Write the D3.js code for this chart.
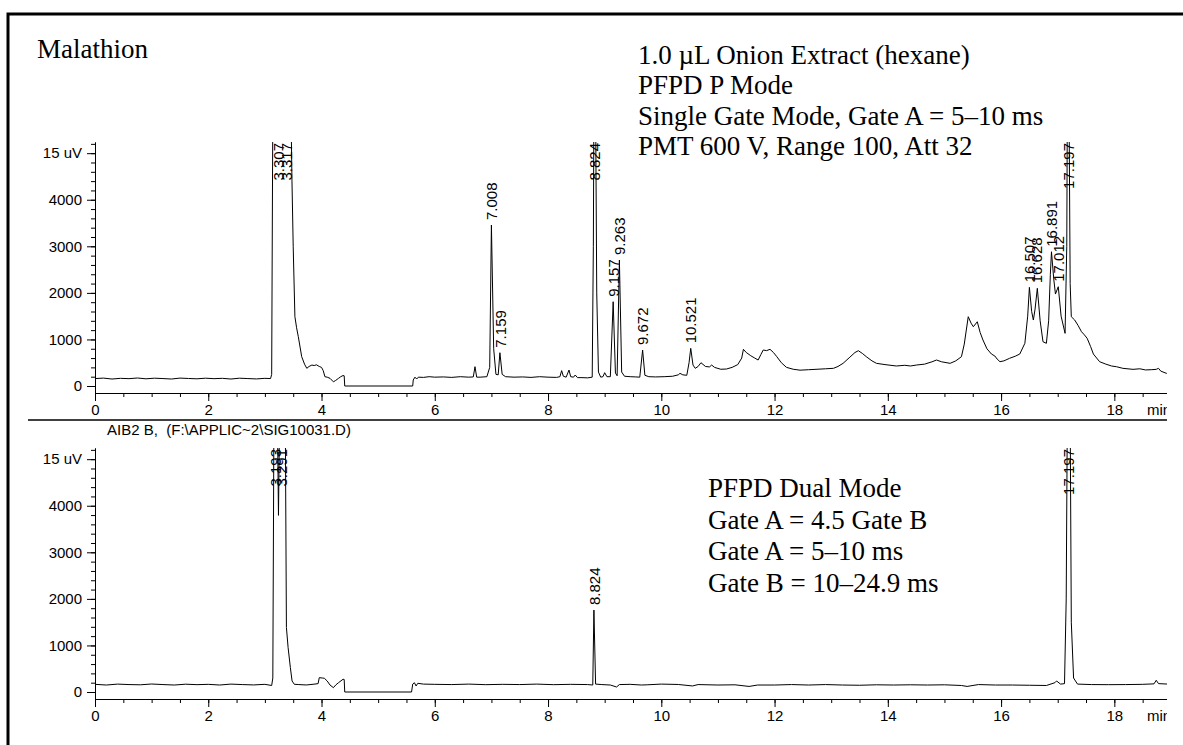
<!DOCTYPE html>
<html>
<head>
<meta charset="utf-8">
<script src="https://cdn.jsdelivr.net/npm/d3@7"></script>
<style>
	body { margin: 0; background: #fff; }
	svg text { font-family: "Liberation Sans", Arial, sans-serif; fill: #000; }
	svg text.note { font-family: "Liberation Serif", "Times New Roman", serif; }
</style>
</head>
<body>
<svg id="chart" width="1183" height="745"></svg>
<script>
// Upper trace: PFPD P mode, [minutes, counts]; 6000 = off scale
var topTrace = [
	[0.00,160],[0.15,170],[0.30,150],[0.45,165],[0.60,158],[0.75,172],[0.90,155],[1.05,168],
	[1.20,160],[1.35,150],[1.50,170],[1.65,162],[1.80,155],[1.95,168],[2.10,158],[2.25,165],
	[2.40,150],[2.55,168],[2.70,160],[2.85,152],[3.00,165],[3.10,160],[3.12,250],[3.14,6000],
	[3.46,6000],[3.478,4420],[3.50,2990],[3.53,1490],[3.56,1250],[3.59,1060],[3.65,630],[3.70,470],
	[3.74,380],[3.78,420],[3.83,450],[3.87,440],[3.91,455],[3.96,420],[4.00,400],[4.03,330],
	[4.06,200],[4.10,190],[4.15,165],[4.21,90],[4.25,120],[4.30,165],[4.34,200],[4.38,225],
	[4.40,220],[4.41,0],[5.61,0],[5.62,130],[5.65,190],[5.68,150],[5.71,190],[5.80,185],
	[5.90,200],[6.00,190],[6.15,195],[6.30,185],[6.45,200],[6.60,190],[6.68,195],[6.71,415],
	[6.74,190],[6.80,190],[6.92,200],[6.97,400],[7.00,3457],[7.04,800],[7.08,250],[7.12,240],
	[7.15,715],[7.19,250],[7.25,200],[7.40,190],[7.55,195],[7.70,185],[7.85,200],[8.00,190],
	[8.15,185],[8.21,200],[8.24,330],[8.27,210],[8.32,190],[8.37,343],[8.40,200],[8.45,190],
	[8.48,236],[8.52,180],[8.60,180],[8.70,175],[8.78,190],[8.80,3000],[8.81,6000],[8.84,6000],
	[8.86,2000],[8.89,300],[8.93,190],[8.97,200],[9.00,286],[9.04,200],[9.10,200],[9.15,1810],
	[9.19,280],[9.22,220],[9.26,2705],[9.30,300],[9.35,210],[9.45,200],[9.55,195],[9.62,190],
	[9.67,773],[9.71,230],[9.78,200],[9.90,195],[10.05,200],[10.20,210],[10.30,240],[10.33,272],
	[10.38,240],[10.45,230],[10.49,500],[10.52,809],[10.56,450],[10.60,380],[10.65,420],[10.70,500],
	[10.78,420],[10.85,410],[10.89,450],[10.94,400],[11.05,360],[11.15,365],[11.25,400],[11.35,460],
	[11.42,600],[11.45,788],[11.50,720],[11.58,650],[11.65,600],[11.71,558],[11.76,680],[11.80,773],
	[11.86,760],[11.92,788],[11.98,720],[12.04,630],[12.12,500],[12.21,401],[12.33,360],[12.45,340],
	[12.60,350],[12.75,360],[12.90,370],[13.04,380],[13.12,420],[13.21,487],[13.33,620],[13.42,720],
	[13.48,758],[13.55,700],[13.62,630],[13.72,540],[13.80,487],[13.95,460],[14.15,430],[14.30,445],
	[14.40,430],[14.51,451],[14.65,470],[14.78,520],[14.86,558],[14.95,520],[15.10,487],[15.20,540],
	[15.30,630],[15.35,900],[15.42,1488],[15.47,1350],[15.51,1273],[15.58,1380],[15.63,1150],[15.68,988],
	[15.75,800],[15.83,687],[15.89,644],[15.93,580],[15.98,522],[16.05,540],[16.15,595],[16.25,640],
	[16.33,687],[16.42,917],[16.47,1500],[16.50,2119],[16.54,1600],[16.57,1417],[16.60,1650],[16.64,2098],
	[16.69,1400],[16.74,951],[16.80,917],[16.84,1400],[16.87,2400],[16.89,2883],[16.93,2300],[16.96,1975],
	[17.01,2132],[17.06,1500],[17.13,1131],[17.16,3000],[17.17,6000],[17.20,6000],[17.22,2200],[17.24,1488],
	[17.30,1417],[17.36,1300],[17.42,1166],[17.47,1100],[17.52,1024],[17.58,850],[17.63,687],[17.74,522],
	[17.85,470],[17.95,430],[18.04,414],[18.15,380],[18.33,358],[18.45,370],[18.55,345],[18.65,350],
	[18.74,358],[18.78,380],[18.82,320],[18.92,272],[18.95,270]
];

// Lower trace: PFPD dual mode
var bottomTrace = [
	[0.00,165],[0.20,150],[0.40,170],[0.60,160],[0.80,155],[1.00,172],[1.20,160],[1.40,150],
	[1.60,168],[1.80,158],[2.00,165],[2.20,150],[2.40,170],[2.60,160],[2.80,152],[3.00,165],
	[3.12,140],[3.14,300],[3.16,6000],[3.22,6000],[3.24,3793],[3.26,6000],[3.36,6000],[3.38,1386],
	[3.41,955],[3.45,524],[3.48,237],[3.52,166],[3.60,160],[3.73,151],[3.85,166],[3.94,180],
	[3.96,308],[4.02,300],[4.05,295],[4.10,237],[4.15,150],[4.21,93],[4.25,150],[4.30,200],
	[4.38,274],[4.40,270],[4.41,0],[5.59,0],[5.61,170],[5.64,200],[5.67,130],[5.70,187],
	[5.80,170],[6.00,165],[6.30,160],[6.60,170],[6.90,158],[7.20,165],[7.50,160],[7.80,170],
	[8.10,158],[8.40,165],[8.70,160],[8.79,150],[8.81,1760],[8.84,170],[8.95,160],[9.10,150],
	[9.21,108],[9.26,160],[9.45,165],[9.65,150],[9.75,155],[10.00,170],[10.30,162],[10.55,130],
	[10.65,160],[11.00,150],[11.30,155],[11.55,120],[11.70,150],[12.00,150],[12.30,160],[12.60,150],
	[12.90,160],[13.20,150],[13.50,145],[13.80,155],[14.10,150],[14.40,155],[14.70,150],[15.00,155],
	[15.30,140],[15.40,120],[15.60,160],[15.90,150],[16.20,150],[16.50,145],[16.80,140],[16.95,200],
	[16.98,237],[17.05,170],[17.12,180],[17.15,2000],[17.17,6000],[17.22,6000],[17.24,1500],[17.28,300],
	[17.35,170],[17.60,160],[17.90,158],[18.20,160],[18.50,165],[18.70,175],[18.74,252],[18.78,180],
	[18.95,170]
];

// Peak retention times and apex heights
var topPeakTimes    = [3.307, 3.317, 7.008, 7.159, 8.824, 9.157, 9.263, 9.672, 10.521, 16.507, 16.628, 16.891, 17.012, 17.197];
var topPeakHeights  = [6000, 6000, 3457, 715, 6000, 1810, 2705, 773, 809, 2119, 2098, 2883, 2132, 6000];
var bottomPeakTimes   = [3.193, 3.291, 8.824, 17.197];
var bottomPeakHeights = [6000, 6000, 1760, 6000];

// Axis ticks
var xTickValues = [0, 2, 4, 6, 8, 10, 12, 14, 16, 18];
var yTickValues = [0, 1000, 2000, 3000, 4000, 5000];
var yTickLabels = ['0', '1000', '2000', '3000', '4000', '15 uV'];

var topNotes = ['1.0 \u00b5L Onion Extract (hexane)', 'PFPD P Mode', 'Single Gate Mode, Gate A = 5\u201310 ms', 'PMT 600 V, Range 100, Att 32'];
var bottomNotes = ['PFPD Dual Mode', 'Gate A = 4.5 Gate B', 'Gate A = 5\u201310 ms', 'Gate B = 10\u201324.9 ms'];

var svg = d3.select('#chart');

// frame, cut off at right and bottom
svg.append('path')
	.attr('d', 'M8,745V14H1183')
	.attr('fill', 'none')
	.attr('stroke', '#000')
	.attr('stroke-width', 3);

var plotLeft = 95, plotRight = 1167;
var x = d3.scaleLinear().domain([0, (plotRight - plotLeft) / 56.63]).range([plotLeft, plotRight]);

svg.append('defs').append('clipPath').attr('id', 'pageClip')
	.append('rect').attr('x', 0).attr('y', 0).attr('width', plotRight).attr('height', 745);

var page = svg.append('g').attr('clip-path', 'url(#pageClip)');

function drawPanel(offset, trace, peakTimes, peakHeights, idx) {
	var g = page.append('g').attr('transform', 'translate(0,' + offset + ')');
	var y = d3.scaleLinear().domain([-150, 5240]).range([393, 142]);

	g.append('clipPath').attr('id', 'plotClip' + idx)
		.append('rect').attr('x', plotLeft).attr('y', 142)
		.attr('width', plotRight - plotLeft).attr('height', 251);

	// minor ticks
	g.append('g').attr('transform', 'translate(0,393)')
		.call(d3.axisBottom(x).tickValues(d3.range(0, 19, 0.5)).tickSize(4).tickFormat('').tickSizeOuter(0));
	g.append('g').attr('transform', 'translate(' + plotLeft + ',0)')
		.call(d3.axisLeft(y).tickValues(d3.range(0, 5300, 200)).tickSize(4).tickFormat('').tickSizeOuter(0));

	g.append('g').attr('transform', 'translate(0,393)')
		.call(d3.axisBottom(x).tickValues(xTickValues).tickSize(8).tickPadding(3).tickSizeOuter(0).tickFormat(d3.format('d')));
	g.append('g').attr('transform', 'translate(' + plotLeft + ',0)')
		.call(d3.axisLeft(y).tickValues(yTickValues).tickSize(8).tickPadding(5).tickSizeOuter(0)
			.tickFormat(function(d, i) { return yTickLabels[i]; }));

	g.selectAll('.tick text').attr('font-size', 15).attr('font-family', null);
	g.selectAll('.domain, .tick line').attr('stroke', '#000').attr('stroke-width', 1);

	g.append('text')
		.attr('x', 1147).attr('y', 415)
		.attr('font-size', 15)
		.text('min');

	var line = d3.line()
		.x(function(d) { return x(d[0]); })
		.y(function(d) { return y(d[1]); });

	g.append('path')
		.datum(trace)
		.attr('clip-path', 'url(#plotClip' + idx + ')')
		.attr('d', line)
		.attr('fill', 'none')
		.attr('stroke', '#000')
		.attr('stroke-width', 1);

	// nudge labels that sit on top of each other
	var pos = peakTimes.map(function(t) { return x(t); });
	for (var i = 1; i < pos.length; i++) {
		if (pos[i] - pos[i - 1] < 4) {
			var c = (pos[i] + pos[i - 1]) / 2;
			pos[i - 1] = c - 4;
			pos[i] = c + 4;
		}
	}

	var top = y.range()[1];
	g.selectAll('.peak-label')
		.data(peakTimes)
		.enter()
		.append('text')
		.attr('class', 'peak-label')
		.attr('font-size', 15)
		.attr('dy', '0.35em')
		.attr('text-anchor', function(d, i) { return peakHeights[i] > y.domain()[1] ? 'end' : 'start'; })
		.attr('transform', function(d, i) {
			var py = peakHeights[i] > y.domain()[1] ? top + 1 : y(peakHeights[i]) - 5;
			return 'translate(' + pos[i] + ',' + py + ') rotate(-90)';
		})
		.text(function(d) { return d3.format('.3f')(d); });
}

drawPanel(0, topTrace, topPeakTimes, topPeakHeights, 0);
drawPanel(306, bottomTrace, bottomPeakTimes, bottomPeakHeights, 1);

page.append('line')
	.attr('x1', 28).attr('x2', plotRight)
	.attr('y1', 420).attr('y2', 420)
	.attr('stroke', '#000')
	.attr('stroke-width', 1.3);

page.append('text')
	.attr('x', 229).attr('y', 435)
	.attr('text-anchor', 'middle')
	.attr('font-size', 15)
	.style('white-space', 'pre')
	.text('AIB2 B,  (F:\\APPLIC~2\\SIG10031.D)');

svg.append('text')
	.attr('class', 'note')
	.attr('x', 37).attr('y', 58)
	.attr('font-size', 27)
	.text('Malathion');

svg.selectAll('.top-note')
	.data(topNotes)
	.enter()
	.append('text')
	.attr('class', 'note top-note')
	.attr('x', 638)
	.attr('y', function(d, i) { return 63.5 + i * 30.5; })
	.attr('font-size', 27)
	.text(function(d) { return d; });

svg.selectAll('.bottom-note')
	.data(bottomNotes)
	.enter()
	.append('text')
	.attr('class', 'note bottom-note')
	.attr('x', 708)
	.attr('y', function(d, i) { return 497 + i * 31.7; })
	.attr('font-size', 27)
	.text(function(d) { return d; });
</script>
</body>
</html>
